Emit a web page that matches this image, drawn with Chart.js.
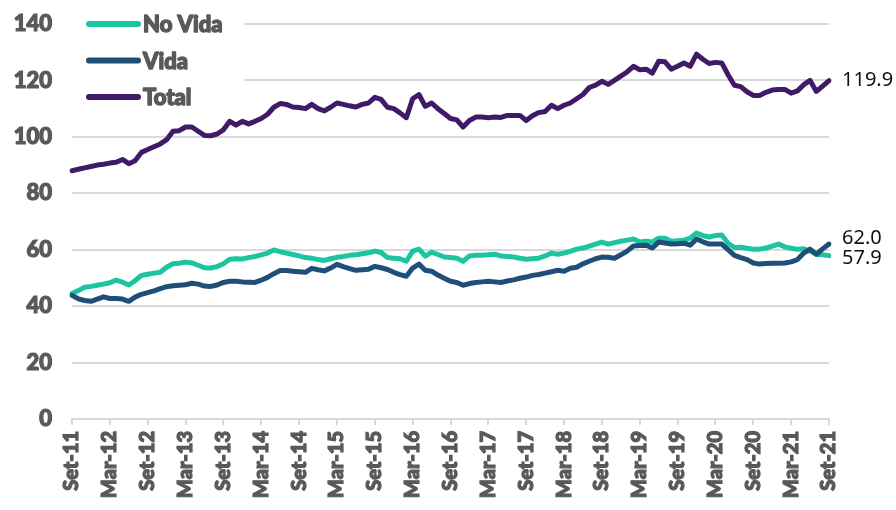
<!DOCTYPE html>
<html>
<head>
<meta charset="utf-8">
<script src="https://cdn.jsdelivr.net/npm/chart.js@4"></script>
<style>
  html, body { margin: 0; padding: 0; background: #fff; }
  #wrap { width: 896px; height: 510px; }
</style>
</head>
<body>
<div id="wrap"><canvas id="chart" width="896" height="510"></canvas></div>
<script>
// tick labels, one every 6 months from Set-11 to Set-21
const tickLabels = [
    "Set-11", "Mar-12", "Set-12", "Mar-13", "Set-13", "Mar-14", "Set-14",
    "Mar-15", "Set-15", "Mar-16", "Set-16", "Mar-17", "Set-17", "Mar-18",
    "Set-18", "Mar-19", "Set-19", "Mar-20", "Set-20", "Mar-21", "Set-21"
];

const seriesNames = ["No Vida", "Vida", "Total"];

// monthly values Set-11 .. Set-21
const noVida = [
    44.5, 45.5, 46.7, 47.0, 47.4, 47.8, 48.3, 49.2, 48.5, 47.5, 49.0, 50.9,
    51.3, 51.7, 52.0, 53.8, 55.0, 55.2, 55.6, 55.3, 54.5, 53.6, 53.5, 54.0,
    55.0, 56.6, 56.8, 56.7, 57.2, 57.6, 58.2, 58.8, 59.9, 59.3, 58.8, 58.3,
    57.8, 57.2, 57.0, 56.5, 56.2, 56.8, 57.3, 57.6, 58.0, 58.2, 58.6, 58.9,
    59.5, 59.0, 57.2, 57.0, 56.8, 55.9, 59.5, 60.2, 57.7, 59.1, 58.3, 57.4,
    57.2, 57.0, 55.9, 57.8, 58.0, 58.0, 58.2, 58.4, 57.8, 57.6, 57.4, 57.0,
    56.6, 56.8, 57.0, 57.8, 58.8, 58.4, 58.8, 59.4, 60.2, 60.6, 61.3, 62.0,
    62.7, 62.0, 62.5, 63.0, 63.4, 63.8, 62.7, 63.0, 62.7, 64.1, 64.1, 63.0,
    63.2, 63.4, 64.1, 65.9, 65.0, 64.5, 65.0, 65.2, 62.3, 60.8, 60.9, 60.5,
    60.2, 60.2, 60.6, 61.3, 62.0, 61.0, 60.5, 60.2, 60.3, 59.5, 58.4, 58.2,
    57.9
];

const vida = [
    43.8, 42.6, 42.0, 41.7, 42.5, 43.3, 42.7, 42.7, 42.5, 41.7, 43.2, 44.2,
    44.8, 45.4, 46.2, 46.9, 47.2, 47.4, 47.6, 48.1, 47.8, 47.1, 47.0, 47.5,
    48.4, 48.8, 48.8, 48.6, 48.5, 48.4, 49.2, 50.2, 51.5, 52.6, 52.6, 52.4,
    52.2, 52.0, 53.4, 52.9, 52.5, 53.5, 54.8, 54.0, 53.3, 52.7, 52.9, 53.1,
    54.1, 53.6, 53.0, 52.0, 51.2, 50.6, 53.5, 54.9, 52.7, 52.4, 51.0, 49.9,
    48.8, 48.4, 47.4, 48.0, 48.4, 48.6, 48.8, 48.6, 48.4, 48.9, 49.3, 49.9,
    50.3, 50.9, 51.2, 51.7, 52.2, 52.7, 52.4, 53.4, 53.8, 55.0, 55.9, 56.8,
    57.4, 57.3, 57.0, 58.2, 59.5, 61.3, 61.5, 61.6, 60.6, 62.7, 62.4, 62.0,
    62.1, 62.3, 61.6, 63.8, 62.8, 62.0, 62.0, 62.0, 60.0, 58.0, 57.2, 56.5,
    55.3, 54.9, 55.1, 55.2, 55.2, 55.3, 55.7, 56.5, 58.8, 60.2, 58.4, 60.3,
    62.0
];

const total = [
    88.0, 88.5, 89.0, 89.5, 90.0, 90.3, 90.7, 91.0, 92.0, 90.5, 91.5, 94.5,
    95.5, 96.5, 97.5, 99.0, 102.0, 102.2, 103.5, 103.5, 102.0, 100.5, 100.4, 101.0,
    102.5, 105.5, 104.2, 105.5, 104.6, 105.5, 106.5, 108.0, 110.5, 111.8, 111.5, 110.6,
    110.4, 110.0, 111.5, 110.0, 109.2, 110.5, 112.0, 111.5, 111.0, 110.6, 111.5, 112.0,
    114.0, 113.3, 110.5, 110.0, 108.5, 106.8, 113.5, 115.0, 110.8, 112.0, 110.0, 108.3,
    106.5, 106.0, 103.5, 105.8, 107.0, 107.0, 106.8, 107.0, 106.9, 107.6, 107.6, 107.6,
    105.8, 107.5, 108.6, 109.0, 111.2, 110.0, 111.2, 112.0, 113.5, 115.0, 117.5, 118.3,
    119.7, 118.6, 120.0, 121.5, 123.0, 125.0, 123.8, 124.0, 122.6, 126.8, 126.6, 124.0,
    125.0, 126.2, 125.0, 129.3, 127.5, 126.0, 126.4, 126.2, 122.0, 118.3, 117.8, 116.0,
    114.7, 114.7, 115.8, 116.6, 116.8, 116.8, 115.5, 116.3, 118.5, 120.0, 116.1, 118.0,
    119.9
];

const colors = ["#1cc4a0", "#1f4e79", "#3f1a66"];
const textGray = "#595959";
const gridGray = "#d9d9d9";
const heavyFont = "Lato, 'DejaVu Sans'";

// one category per month, tick label on every 6th
const labels = [];
tickLabels.forEach((t, k) => {
    labels.push(t);
    if (k < tickLabels.length - 1) for (let j = 0; j < 5; j++) labels.push("");
});

// end-of-line value labels
const endLabels = {
    id: "endLabels",
    afterDatasetsDraw(chart) {
        const ctx = chart.ctx;
        const shifts = [3, -6, 0];
        ctx.save();
        ctx.font = "20px 'Noto Sans'";
        ctx.fillStyle = "#111";
        ctx.textAlign = "left";
        ctx.textBaseline = "middle";
        chart.data.datasets.forEach((ds, i) => {
            const pts = chart.getDatasetMeta(i).data;
            const p = pts[pts.length - 1];
            ctx.fillText(ds.data[ds.data.length - 1].toFixed(1), p.x + 13, p.y + shifts[i]);
        });
        ctx.restore();
    }
};

// legend box in the top-left corner of the plot
const cornerLegend = {
    id: "cornerLegend",
    afterDraw(chart) {
        const ctx = chart.ctx;
        const left = chart.chartArea.left;
        ctx.save();
        ctx.fillStyle = "#fff";
        ctx.fillRect(left, 8, 172, 104);
        ctx.font = "900 22px " + heavyFont;
        ctx.textBaseline = "middle";
        ctx.lineCap = "round";
        seriesNames.forEach((name, i) => {
            const y = 24 + i * 36.5;
            ctx.lineWidth = 6;
            ctx.strokeStyle = colors[i];
            ctx.beginPath();
            ctx.moveTo(left + 17, y);
            ctx.lineTo(left + 66, y);
            ctx.stroke();
            ctx.fillStyle = textGray;
            ctx.strokeStyle = textGray;
            ctx.lineWidth = 1.4;
            ctx.lineJoin = "round";
            ctx.strokeText(name, left + 71, y + 1);
            ctx.fillText(name, left + 71, y + 1);
        });
        ctx.restore();
    }
};

const makeSet = (name, data, i, order) => ({
    label: name,
    data: data,
    borderColor: colors[i],
    backgroundColor: colors[i],
    borderWidth: 5,
    pointRadius: 0,
    tension: 0,
    borderJoinStyle: "round",
    borderCapStyle: "round",
    order: order
});

new Chart(document.getElementById("chart"), {
    type: "line",
    data: {
        labels: labels,
        datasets: [
            makeSet(seriesNames[0], noVida, 0, 1),
            makeSet(seriesNames[1], vida, 1, 0),
            makeSet(seriesNames[2], total, 2, 2)
        ]
    },
    options: {
        responsive: false,
        animation: false,
        layout: { padding: { top: 24, right: 67, left: 0, bottom: 0 } },
        plugins: {
            legend: { display: false },
            tooltip: { enabled: false }
        },
        scales: {
            x: {
                offset: false,
                afterFit: (scale) => { scale.height = 91; },
                border: { display: true, color: gridGray, width: 2 },
                grid: {
                    drawOnChartArea: false,
                    drawTicks: true,
                    tickLength: 6,
                    color: gridGray,
                    lineWidth: 2
                },
                ticks: {
                    autoSkip: false,
                    minRotation: 90,
                    maxRotation: 90,
                    padding: 6,
                    color: textGray,
                    textStrokeColor: textGray,
                    textStrokeWidth: 1.2,
                    font: { family: heavyFont, weight: "900", size: 20 },
                    callback: function (val, idx) {
                        return idx % 6 === 0 ? this.getLabelForValue(val) : null;
                    }
                }
            },
            y: {
                min: 0,
                max: 140,
                afterFit: (scale) => {
                    scale.width = 72;
                    scale.paddingTop = 10;
                    scale.paddingBottom = 10;
                },
                border: { display: false },
                grid: { color: gridGray, lineWidth: 2, drawTicks: false },
                ticks: {
                    stepSize: 20,
                    padding: 20,
                    color: textGray,
                    textStrokeColor: textGray,
                    textStrokeWidth: 1.2,
                    font: { family: heavyFont, weight: "900", size: 22 }
                }
            }
        }
    },
    plugins: [endLabels, cornerLegend]
});
</script>
</body>
</html>
